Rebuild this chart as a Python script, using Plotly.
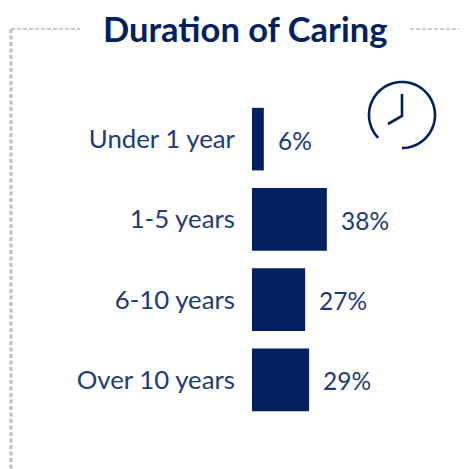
import numpy as np
import plotly.graph_objects as go

categories = ["Under 1 year", "1-5 years", "6-10 years", "Over 10 years"]
values = [6, 38, 27, 29]
title_text = "Duration of Caring"

# The page body offsets the figure by 8px, so the figure is 8px smaller
OFF = 8
W, H = 467 - OFF, 469 - OFF
L, R, T, B = 252 - OFF, 15, 99 - OFF, 49
NAVY = "#04215f"
TEXT = "#1f3a76"
GREY = "#bdbdbd"
FONT = "Lato, Carlito, sans-serif"


def px(x):
    return (x - OFF - L) / (W - L - R)


def py(y):
    return 1 - (y - OFF - T) / (H - T - B)


def line(x0, y0, x1, y1, width, dash):
    return dict(type="line", xref="paper", yref="paper",
                x0=px(x0), y0=py(y0), x1=px(x1), y1=py(y1),
                line=dict(color=GREY, width=width, dash=dash), layer="below")


def poly(points, width=2.6):
    d = "M " + " L ".join(f"{px(a):.5f},{py(b):.5f}" for a, b in points)
    return dict(type="path", xref="paper", yref="paper", path=d,
                line=dict(color=NAVY, width=width))


# Clock icon: open circle with two hands
cx, cy, r = 402, 115, 33
theta = np.radians(np.linspace(136, 450, 90))
arc = [(cx + r * np.cos(t), cy + r * np.sin(t)) for t in theta]
hands = [(402, 94), (402, 116), (388, 124)]

shapes = [
    line(11, 29, 80, 29, 1.3, "4px,2px"),
    line(11, 29, 11, 469, 3, "4px,2.5px"),
    line(410, 29, 467, 29, 1.3, "4px,2px"),
    poly(arc),
    poly(hands),
]

fig = go.Figure(go.Bar(
    x=values, y=categories, orientation="h",
    marker=dict(color=NAVY, line=dict(width=0)),
    width=0.78, hoverinfo="skip",
))

annotations = [dict(
    x=v, y=c, xref="x", yref="y", text=f"{v}%", showarrow=False,
    xanchor="left", xshift=12, yshift=-1,
    font=dict(family=FONT, size=24.5, color=TEXT),
) for c, v in zip(categories, values)]

annotations.append(dict(
    x=px(245), y=py(28), xref="paper", yref="paper", text=f"<b>{title_text}</b>",
    showarrow=False, xanchor="center", yanchor="middle",
    font=dict(family=FONT, size=34.5, color=NAVY),
))

fig.update_layout(
    width=W, height=H, margin=dict(l=L, r=R, t=T, b=B, pad=0),
    paper_bgcolor="white", plot_bgcolor="white", showlegend=False,
    shapes=shapes, annotations=annotations,
    xaxis=dict(range=[0, 100 * (W - L - R) / 197], visible=False),
    yaxis=dict(autorange="reversed", showgrid=False, zeroline=False, showline=False,
               ticks="", ticklabelstandoff=16,
               tickfont=dict(family=FONT, size=25.8, color=TEXT)),
)

fig.write_html("out.html")
